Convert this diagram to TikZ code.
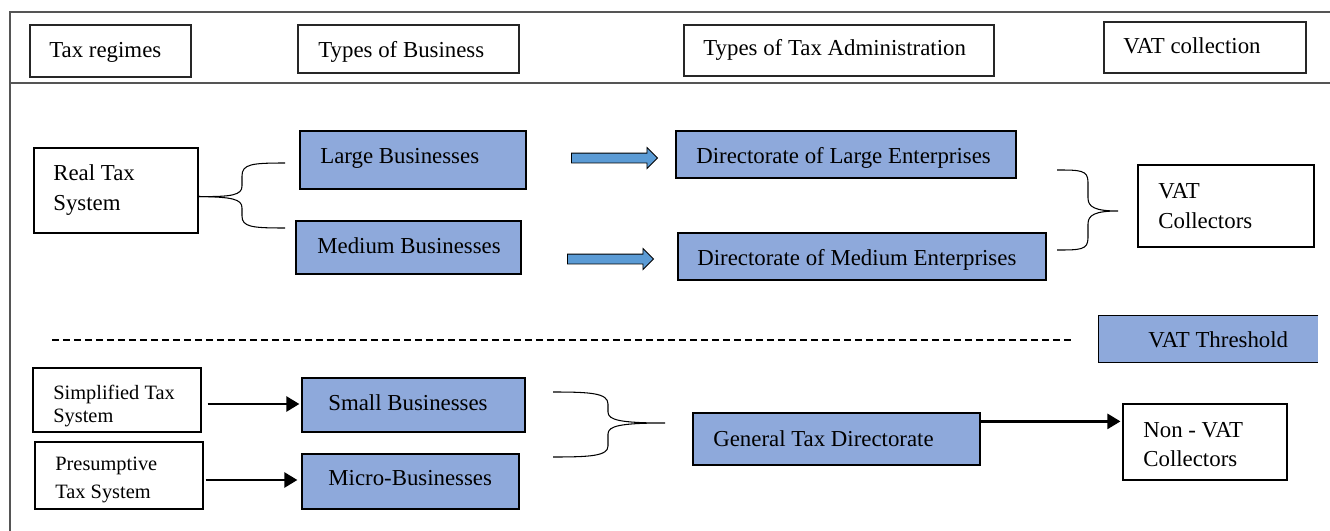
\documentclass[tikz,border=0pt]{standalone}
\usepackage{fontspec}
\setmainfont{Liberation Serif}
\usetikzlibrary{fit,calc,arrows.meta,shapes.arrows}
\definecolor{bluefill}{HTML}{8EA9DB}
\definecolor{arrowblue}{HTML}{5B9BD5}
\definecolor{framegray}{HTML}{555555}
\begin{document}
\begin{tikzpicture}[x=0.02cm,y=-0.02cm,
  font=\fontsize{13pt}{15pt}\selectfont,
  frame/.style={draw=framegray,line width=1.1pt},
  hbox/.style={draw=black!85,line width=0.7pt,inner sep=0},
  wbox/.style={draw=black,line width=0.6pt,inner sep=0},
  bbox/.style={draw=black,fill=bluefill,line width=0.7pt,inner sep=0},
  txt/.style={anchor=base west,inner sep=0},
  small/.style={font=\fontsize{11.6pt}{13pt}\selectfont},
  bracepath/.style={line width=0.6pt},
  blockarrow/.style={single arrow,draw=black,fill=arrowblue,line width=0.5pt,
    inner xsep=0pt,inner ysep=0.9mm,single arrow head extend=1.1mm,
    minimum height=17.2mm,anchor=west},
  blackarrow/.style={line width=1.4pt,-{Triangle[length=2.6mm,width=3mm]}}]
\useasboundingbox (0,0) rectangle (1330,531);

% frame
\draw[frame] (10,531) -- (10,12) -- (1330,12);
\draw[frame] (10,83) -- (1330,83);

% header boxes
\node[hbox,fit={(30,25) (191,77)}] (h1) {};
\node[txt] (h1t) at (49,57) {Tax regimes};
\node[hbox,fit={(298,25) (519,73)}] (h2) {};
\node[txt] (h2t) at (318,57) {Types of Business};
\node[hbox,fit={(684,25) (994,76)}] (h3) {};
\node[txt] (h3t) at (703,55) {Types of Tax Administration};
\node[hbox,fit={(1104,22) (1306,73)}] (h4) {};
\node[txt] (h4t) at (1123,53) {VAT collection};

% upper part
\node[wbox,fit={(34,148) (198,233)}] (real) {};
\node[txt] (realt1) at (53,180) {Real Tax};
\node[txt] (realt2) at (53,210) {System};

\node[bbox,fit={(300,131) (526,189)}] (large) {};
\node[txt] (larget) at (320,163) {Large Businesses};
\node[bbox,fit={(296,221) (521,274)}] (medium) {};
\node[txt] (mediumt) at (317,253) {Medium Businesses};

\node[bbox,fit={(676,131) (1016,178)}] (dle) {};
\node[txt] (dlet) at (696,163) {Directorate of Large Enterprises};
\node[bbox,fit={(678,233) (1046,280)}] (dme) {};
\node[txt] (dmet) at (697,265) {Directorate of Medium Enterprises};

\node[wbox,fit={(1138,165) (1314,247)}] (vatc) {};
\node[txt] (vatct1) at (1158,198) {VAT};
\node[txt] (vatct2) at (1158,228) {Collectors};

\node[blockarrow] (a1) at (571,158) {};
\node[blockarrow] (a2) at (567,259) {};

% left brace
\coordinate (lb) at ($(real.east)+(0,6)$);
\draw[bracepath] (285,163) .. controls (252,163) and (242,164) .. (242,176)
  -- (242,186) .. controls (242,195) and (232,197) .. (lb);
\draw[bracepath] (lb) .. controls (232,197) and (242,199) .. (242,208)
  -- (242,216) .. controls (242,227) and (252,228) .. (285,228);

% right brace
\coordinate (rb) at (1118,211);
\draw[bracepath] (1057,170) .. controls (1080,170) and (1088,170) .. (1088,182)
  -- (1088,198) .. controls (1088,207) and (1095,211) .. (rb)
  .. controls (1095,211) and (1088,215) .. (1088,224)
  -- (1088,238) .. controls (1088,250) and (1080,250) .. (1057,250);

% threshold
\draw[line width=0.6pt,dash pattern=on 1.4mm off 0.8mm] (52,340) -- (1073,340);
\node[fill=bluefill,inner sep=0,fit={(1099,316) (1318,362)}] (thr) {};
\draw[line width=0.7pt] (thr.north east) -- (thr.north west) -- (thr.south west) -- (thr.south east);
\node[txt] (thrt) at (1148,347) {VAT Threshold};

% lower part
\node[wbox,fit={(33,368) (201,432)}] (simp) {};
\node[txt,small] (simpt1) at (53,399) {Simplified Tax};
\node[txt,small] (simpt2) at (53,422) {System};
\node[wbox,fit={(35,442) (203,509)}] (pres) {};
\node[txt,small] (prest1) at (55,470) {Presumptive};
\node[txt,small] (prest2) at (55,498) {Tax System};

\node[bbox,fit={(302,378) (525,432)}] (smallb) {};
\node[txt] (smallbt) at (328,410) {Small Businesses};
\node[bbox,fit={(302,454) (519,509)}] (micro) {};
\node[txt] (microt) at (328,485) {Micro-Businesses};

\node[bbox,fit={(693,413) (980,465)}] (gtd) {};
\node[txt] (gtdt) at (713,446) {General Tax Directorate};

\node[wbox,fit={(1123,404) (1287,480)}] (nonvat) {};
\node[txt] (nonvatt1) at (1143,437) {Non - VAT};
\node[txt] (nonvatt2) at (1143,466) {Collectors};

\draw[blackarrow,shorten <=1.2mm,shorten >=0.4mm] (simp.east |- 0,404) -- (smallb.west |- 0,404);
\draw[blackarrow,shorten <=0.4mm,shorten >=0.8mm] (pres.east |- 0,480) -- (micro.west |- 0,480);
\coordinate (g1) at ($(gtd.north east)+(0,9)$);
\draw[blackarrow,shorten >=0.4mm] (g1) -- (g1 -| nonvat.west);

% bottom brace
\coordinate (bb) at (665,423);
\draw[bracepath] (553,392) .. controls (590,392) and (608,393) .. (608,404)
  -- (608,412) .. controls (608,420) and (620,423) .. (bb)
  .. controls (620,423) and (608,426) .. (608,434)
  -- (608,446) .. controls (608,456) and (590,457) .. (553,457);
\end{tikzpicture}
\end{document}
